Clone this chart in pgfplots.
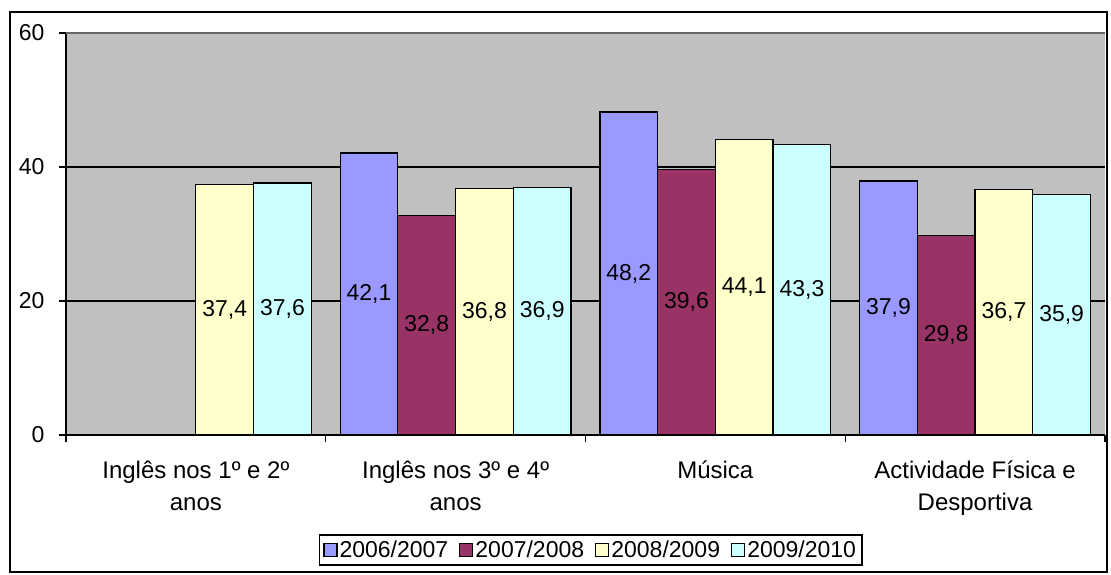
\documentclass[border=0pt]{standalone}
\usepackage{pgfplots}
\pgfplotsset{compat=1.18}
\usepackage{fontspec}
\setmainfont{Liberation Sans}
\definecolor{cA}{HTML}{9999FF}
\definecolor{cB}{HTML}{993366}
\definecolor{cC}{HTML}{FFFFCC}
\definecolor{cD}{HTML}{CCFFFF}
\definecolor{bgG}{HTML}{C0C0C0}
\begin{document}
\begin{tikzpicture}[x=1pt,y=1pt]
\useasboundingbox (0,0) rectangle (1111,574);
\draw[line width=1.5pt] (10,2) rectangle (1107,562);
\begin{axis}[
  at={(66pt,139pt)}, anchor=south west,
  scale only axis, width=1039pt, height=402pt,
  xmin=0, xmax=4, ymin=0, ymax=60,
  axis x line*=bottom, axis y line*=left,
  axis line style={black, line width=1.2pt},
  axis background/.style={fill=bgG},
  ytick={0,20,40,60},
  ymajorgrids, major grid style={black, line width=1.2pt},
  xtick={0,1,2,3,4}, xticklabels={},
  extra x ticks={0.5,1.5,2.5,3.5},
  extra x tick labels={Inglês nos 1º e 2º\\anos, Inglês nos 3º e 4º\\anos, Música, Actividade Física e\\Desportiva},
  extra x tick style={major tick length=0pt, grid=none},
  x tick label style={align=center, font=\fontsize{24}{32}\selectfont, yshift=-22pt},
  y tick label style={font=\fontsize{23}{27}\selectfont, xshift=-11pt},
  tick align=outside, major tick length=7pt,
  tick style={black, line width=1.2pt},
  /pgf/number format/assume math mode=true,
  ybar=0pt, bar width=0.2222,
  every axis plot/.append style={draw=black, line width=1.2pt},
  visualization depends on={y \as \rawy},
  nodes near coords={\pgfmathprintnumber[fixed,precision=1,zerofill,use comma]{\pgfplotspointmeta}},
  every node near coord/.append style={font=\fontsize{23}{27}\selectfont, anchor=center, yshift={-3.35*\rawy}, text=black},
  legend columns=4,
  legend style={at={(0.505,-0.286)}, anchor=center, draw=black, line width=1.5pt,
    font=\fontsize{23}{27}\selectfont, inner sep=4pt,
    /tikz/every even column/.append style={column sep=9pt}},
  legend image code/.code={\draw[#1, draw=black, line width=1.2pt] (0pt,-6.5pt) rectangle (13pt,6.5pt);},
  clip=false,
]
\addplot[fill=cA] coordinates {(1.5,42.1) (2.5,48.2) (3.5,37.9)};
\addplot[fill=cB] coordinates {(1.5,32.8) (2.5,39.6) (3.5,29.8)};
\addplot[fill=cC] coordinates {(0.5,37.4) (1.5,36.8) (2.5,44.1) (3.5,36.7)};
\addplot[fill=cD] coordinates {(0.5,37.6) (1.5,36.9) (2.5,43.3) (3.5,35.9)};
\legend{2006/2007,2007/2008,2008/2009,2009/2010}
\draw[color=gray!80!black, line width=1.6pt] (rel axis cs:0,1) -- (rel axis cs:1,1);
\end{axis}
\end{tikzpicture}
\end{document}
